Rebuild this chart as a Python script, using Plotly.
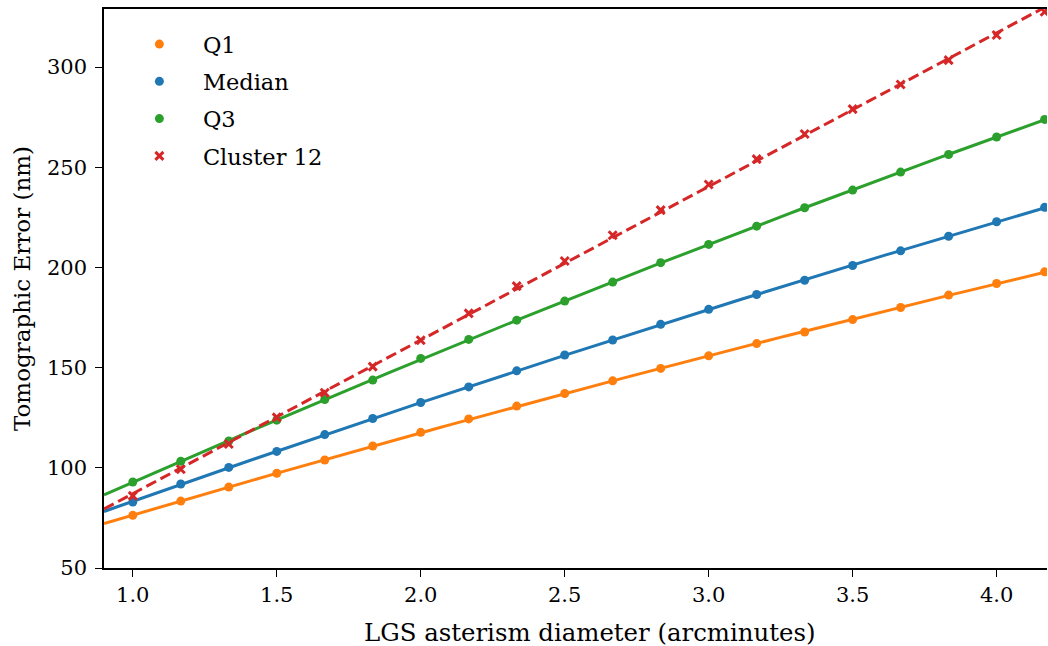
import numpy as np
import plotly.graph_objects as go

# ---- data ----
diam = [1 + k / 6 for k in range(20)]  # LGS asterism diameter (arcmin)

q1 = [76.3, 83.4, 90.4, 97.3, 103.9, 110.9, 117.7, 124.4, 130.8, 137.1,
      143.4, 149.6, 155.9, 162.0, 167.8, 174.0, 180.0, 186.2, 192.0, 197.8]
median = [82.9, 91.9, 100.2, 108.2, 116.6, 124.6, 132.6, 140.4, 148.4, 156.3,
          163.8, 171.6, 179.1, 186.5, 193.6, 201.0, 208.3, 215.6, 222.8, 230.0]
q3 = [92.9, 103.3, 113.4, 123.8, 134.1, 143.8, 154.6, 164.1, 173.7, 183.2,
      192.7, 202.4, 211.5, 220.6, 229.8, 238.6, 247.6, 256.4, 265.1, 273.9]
cluster12 = [86.0, 99.3, 111.9, 125.2, 137.5, 150.5, 163.7, 177.1, 190.7, 203.2,
             216.1, 228.6, 241.4, 254.1, 266.6, 279.0, 291.3, 303.5, 316.0, 327.6]

names = ["Q1", "Median", "Q3", "Cluster 12"]
series = [q1, median, q3, cluster12]
fit_degree = [2, 2, 2, 1]
colors = ["#ff7f0e", "#1f77b4", "#2ca02c", "#d62728"]
symbols = ["circle", "circle", "circle", "x-thin-open"]
dashes = ["solid", "solid", "solid", "11px,5px"]

x_title = "LGS asterism diameter (arcminutes)"
y_title = "Tomographic Error (nm)"

x_range = [0.9, 4.175]
y_range = [50, 329]

fig = go.Figure()
xfit = np.linspace(x_range[0], x_range[1], 100)

# fitted curves
for vals, col, dash, deg in zip(series, colors, dashes, fit_degree):
    coef = np.polyfit(diam, vals, deg)
    fig.add_trace(go.Scatter(x=xfit, y=np.polyval(coef, xfit), mode="lines",
                             line=dict(color=col, width=3, dash=dash),
                             showlegend=False, hoverinfo="skip"))

# data points
for i, (name, vals, col, sym) in enumerate(zip(names, series, colors, symbols)):
    if sym == "circle":
        marker = dict(color=col, size=9, symbol="circle")
    else:
        marker = dict(color=col, size=8, symbol="x-thin-open", line=dict(color=col, width=3))
    fig.add_trace(go.Scatter(x=diam, y=vals, mode="markers", name=name,
                             marker=marker, legendgroup=f"g{i}"))

font = "DejaVu Serif, Liberation Serif, serif"
fig.update_layout(
    width=1048, height=646,
    margin=dict(l=104, r=1, t=9, b=78),
    paper_bgcolor="white", plot_bgcolor="white",
    font=dict(family=font, size=21, color="black"),
    showlegend=True,
    legend=dict(x=0.0126, y=0.975, xanchor="left", yanchor="top",
                bgcolor="rgba(0,0,0,0)", font=dict(size=22.5),
                tracegroupgap=5, itemwidth=77),
    xaxis=dict(range=x_range,
               tickvals=[1.0, 1.5, 2.0, 2.5, 3.0, 3.5, 4.0], tickformat=".1f",
               showline=True, linecolor="black", linewidth=1.5, mirror=True,
               ticks="outside", ticklen=7, tickwidth=1.2, tickcolor="black",
               showgrid=False, zeroline=False),
    yaxis=dict(range=y_range,
               title=dict(text=y_title, standoff=10, font=dict(size=23)),
               tickvals=[50, 100, 150, 200, 250, 300],
               ticklabelstandoff=4,
               showline=True, linecolor="black", linewidth=1.5, mirror=False,
               ticks="outside", ticklen=7, tickwidth=1.2, tickcolor="black",
               showgrid=False, zeroline=False),
    annotations=[dict(text=x_title, xref="paper", yref="paper",
                      x=0.515, y=-0.1145, xanchor="center", yanchor="middle",
                      showarrow=False, font=dict(size=24.4))],
)

fig.write_html("out.html")
